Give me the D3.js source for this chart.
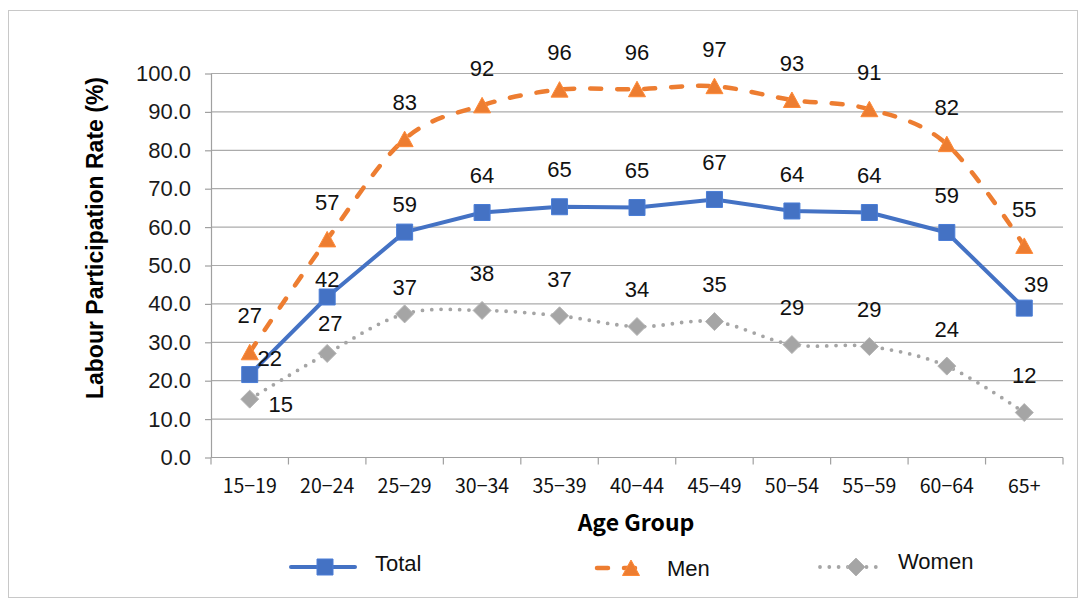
<!DOCTYPE html>
<html>
<head>
<meta charset="utf-8">
<script src="https://cdn.jsdelivr.net/npm/d3@7"></script>
<style>
  body { margin: 0; background: #ffffff; }
  svg { display: block; }
</style>
</head>
<body>
<svg id="chart" width="1082" height="601"></svg>
<script>
// ---- data ----
const ageGroups = ["15−19", "20−24", "25−29", "30−34", "35−39", "40−44", "45−49", "50−54", "55−59", "60−64", "65+"];
const totalRate = [21.6, 41.8, 58.7, 63.8, 65.3, 65.1, 67.2, 64.2, 63.8, 58.6, 38.9];
const menRate   = [27.4, 56.8, 82.9, 91.7, 95.8, 95.9, 96.7, 93.1, 90.7, 81.6, 55.1];
const womenRate = [15.2, 27.1, 37.4, 38.3, 36.9, 34.1, 35.4, 29.4, 28.9, 23.8, 11.7];
const yTicks = [0, 10, 20, 30, 40, 50, 60, 70, 80, 90, 100];
const seriesNames = ["Total", "Men", "Women"];

// ---- layout ----
const W = 1082, H = 601;
const plot = { left: 211, right: 1063, top: 73.5, bottom: 457.5 };
const FONT = "'Liberation Sans', Arial, Helvetica, sans-serif";
const CJK = "'Noto Sans CJK JP', 'Liberation Sans', sans-serif";

// label nudges (dx, dy from marker centre) for labels moved off the default spot
const defaultLabelDy = -37;
const labelNudge = {
  Total: { 0: [20, -16], 1: [0, -18], 2: [0, -28], 10: [12, -24] },
  Men:   {},
  Women: { 0: [31, 5], 1: [3, -30], 2: [0, -27] }
};

const series = [
  { name: seriesNames[0], values: totalRate, color: "#4472C4", width: 4,   dash: null,      cap: "round", curve: d3.curveLinear,
    marker: "M-8,-8H8V8H-8Z" },
  { name: seriesNames[1], values: menRate,   color: "#ED7D31", width: 4.5, dash: "11,16",   cap: "round", curve: d3.curveCardinal.tension(0),
    marker: "M0,-8L8.5,7.5L-8.5,7.5Z" },
  { name: seriesNames[2], values: womenRate, color: "#A5A5A5", width: 3.8, dash: "0,9.3",   cap: "round", curve: d3.curveCardinal.tension(0),
    marker: "M0,-9L9,0L0,9L-9,0Z" }
];

const svg = d3.select("#chart");

// chart frame
svg.append("rect")
  .attr("x", 8.5).attr("y", 10.5)
  .attr("width", 1069).attr("height", 587)
  .attr("fill", "#ffffff").attr("stroke", "#c8c8c8").attr("stroke-width", 1);

const x = d3.scaleBand().domain(ageGroups).range([plot.left, plot.right]).padding(0);
const y = d3.scaleLinear().domain([0, 100]).range([plot.bottom, plot.top]);
const cx = d => x(d) + x.bandwidth() / 2;

// horizontal gridlines
svg.append("g")
  .selectAll("line")
  .data(yTicks.filter(v => v > 0))
  .join("line")
  .attr("x1", plot.left).attr("x2", plot.right)
  .attr("y1", d => y(d)).attr("y2", d => y(d))
  .attr("stroke", "#ababab").attr("stroke-width", 1.2);

// y axis
const yAxis = svg.append("g")
  .attr("transform", `translate(${plot.left},0)`)
  .call(d3.axisLeft(y).tickValues(yTicks).tickFormat(d3.format(".1f"))
        .tickSize(6).tickSizeOuter(0).tickPadding(14));
yAxis.select(".domain").attr("stroke", "#a0a0a0").attr("stroke-width", 1.2);
yAxis.selectAll(".tick line").attr("stroke", "#a0a0a0").attr("stroke-width", 1.2);
yAxis.selectAll(".tick text")
  .attr("font-family", FONT).attr("font-size", 22).attr("fill", "#1a1a1a");

// x axis: baseline, boundary ticks, category labels
const xAxis = svg.append("g");
xAxis.append("line")
  .attr("x1", plot.left).attr("x2", plot.right)
  .attr("y1", y(0)).attr("y2", y(0))
  .attr("stroke", "#a0a0a0").attr("stroke-width", 1.2);
const boundaries = ageGroups.map(d => x(d)).concat([x(ageGroups[ageGroups.length - 1]) + x.bandwidth()]);
xAxis.selectAll("line.tick")
  .data(boundaries)
  .join("line").attr("class", "tick")
  .attr("x1", d => d).attr("x2", d => d)
  .attr("y1", y(0)).attr("y2", y(0) + 7)
  .attr("stroke", "#a0a0a0").attr("stroke-width", 1.2);
xAxis.selectAll("text")
  .data(ageGroups)
  .join("text")
  .attr("x", d => cx(d)).attr("y", 486)
  .attr("dy", "0.35em")
  .attr("text-anchor", "middle")
  .attr("font-family", CJK).attr("font-size", 19.5).attr("fill", "#111")
  .text(d => d);

// axis titles
svg.append("text")
  .attr("x", 636).attr("y", 523).attr("dy", "0.35em")
  .attr("text-anchor", "middle")
  .attr("font-family", CJK).attr("font-weight", "bold").attr("font-size", 23).attr("fill", "#000")
  .text("Age Group");

svg.append("text")
  .attr("transform", "translate(95,238) rotate(-90)")
  .attr("dy", "0.35em")
  .attr("text-anchor", "middle")
  .attr("font-family", FONT).attr("font-weight", "bold").attr("font-size", 23).attr("fill", "#000")
  .text("Labour Participation Rate (%)");

// series lines and markers
series.forEach(s => {
  const g = svg.append("g");
  const line = d3.line()
    .x((v, i) => cx(ageGroups[i]))
    .y(v => y(v))
    .curve(s.curve);
  g.append("path")
    .attr("d", line(s.values))
    .attr("fill", "none")
    .attr("stroke", s.color)
    .attr("stroke-width", s.width)
    .attr("stroke-linecap", s.cap)
    .attr("stroke-linejoin", "round")
    .attr("stroke-dasharray", s.dash);
  g.selectAll("path.marker")
    .data(s.values)
    .join("path").attr("class", "marker")
    .attr("d", s.marker)
    .attr("transform", (v, i) => `translate(${cx(ageGroups[i])},${y(v)})`)
    .attr("fill", s.color)
    .attr("stroke", d3.color(s.color).brighter(0.25))
    .attr("stroke-width", 1);
});

// data labels
series.forEach(s => {
  svg.append("g")
    .selectAll("text")
    .data(s.values)
    .join("text")
    .attr("x", (v, i) => cx(ageGroups[i]) + ((labelNudge[s.name][i] || [0, defaultLabelDy])[0]))
    .attr("y", (v, i) => y(v) + ((labelNudge[s.name][i] || [0, defaultLabelDy])[1]))
    .attr("dy", "0.35em")
    .attr("text-anchor", "middle")
    .attr("font-family", FONT).attr("font-size", 22).attr("fill", "#111")
    .text(v => d3.format(".0f")(v));
});

// legend
const legendItems = [
  { s: series[0], x1: 291, x2: 355, mx: 325, y: 567, tx: 375, ty: 563 },
  { s: series[1], x1: 597, x2: 645, mx: 631, y: 568, tx: 667, ty: 568 },
  { s: series[2], x1: 820, x2: 880, mx: 856, y: 567, tx: 898, ty: 561 }
];
const legend = svg.append("g");
legendItems.forEach(it => {
  legend.append("line")
    .attr("x1", it.x1).attr("x2", it.x2)
    .attr("y1", it.y).attr("y2", it.y)
    .attr("stroke", it.s.color)
    .attr("stroke-width", it.s.width)
    .attr("stroke-linecap", it.s.cap)
    .attr("stroke-dasharray", it.s.dash);
  legend.append("path")
    .attr("d", it.s.marker)
    .attr("transform", `translate(${it.mx},${it.y})`)
    .attr("fill", it.s.color)
    .attr("stroke", d3.color(it.s.color).brighter(0.25))
    .attr("stroke-width", 1);
  legend.append("text")
    .attr("x", it.tx).attr("y", it.ty).attr("dy", "0.35em")
    .attr("font-family", FONT).attr("font-size", 22).attr("fill", "#111")
    .text(it.s.name);
});
</script>
</body>
</html>
